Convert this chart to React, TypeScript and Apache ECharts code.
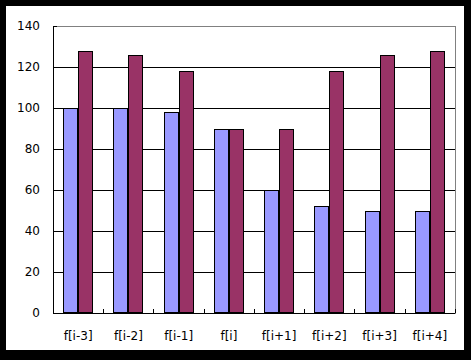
import React, { useEffect, useRef } from "react";
import * as echarts from "echarts";

const categories = ["f[i-3]", "f[i-2]", "f[i-1]", "f[i]", "f[i+1]", "f[i+2]", "f[i+3]", "f[i+4]"];
const seriesA = [100, 100, 98, 90, 60, 52, 50, 50];
const seriesB = [128, 126, 118, 90, 90, 118, 126, 128];

export default function App() {
  const ref = useRef<HTMLDivElement>(null);
  useEffect(() => {
    document.body.style.margin = "0";
    if (!ref.current) return;
    const chart = echarts.init(ref.current, null, { renderer: "svg" });
    const font = "DejaVu Sans";
    chart.setOption({
      animation: false,
      grid: {
        left: 47,
        top: 20,
        right: 9,
        bottom: 37,
        show: true,
        borderColor: "#808080",
        borderWidth: 1,
        backgroundColor: "#ffffff",
      },
      xAxis: {
        type: "category",
        data: categories,
        axisLine: { show: true, lineStyle: { color: "#000", width: 1 } },
        axisTick: { show: true, inside: true, length: 4, lineStyle: { color: "#000" } },
        axisLabel: { color: "#000", fontFamily: font, fontSize: 12, margin: 17 },
        splitLine: { show: false },
      },
      yAxis: {
        type: "value",
        min: 0,
        max: 140,
        interval: 20,
        axisLine: { show: true, lineStyle: { color: "#000", width: 1 } },
        axisTick: { show: true, inside: true, length: 4, lineStyle: { color: "#000" } },
        axisLabel: { color: "#000", fontFamily: font, fontSize: 12, margin: 13 },
        splitLine: {
          show: true,
          lineStyle: {
            color: ["#000000", "#000000", "#000000", "#000000", "#000000", "#000000", "#000000", "#808080"],
            width: 1,
            type: "solid",
          },
        },
      },
      series: [
        {
          type: "bar",
          data: seriesA,
          barGap: "0%",
          barCategoryGap: "40%",
          itemStyle: { color: "#9999FF", borderColor: "#000", borderWidth: 1 },
        },
        {
          type: "bar",
          data: seriesB,
          barGap: "0%",
          barCategoryGap: "40%",
          itemStyle: { color: "#993366", borderColor: "#000", borderWidth: 1 },
        },
      ],
    });
    return () => chart.dispose();
  }, []);
  return (
    <div style={{ position: "relative", width: 471, height: 360, background: "#000" }}>
      <style>{"#chart-box svg path, #chart-box svg rect { shape-rendering: crispEdges; }"}</style>
      <div
        id="chart-box"
        ref={ref}
        style={{ position: "absolute", left: 6, top: 6, width: 458, height: 344, background: "#fff" }}
      />
    </div>
  );
}
